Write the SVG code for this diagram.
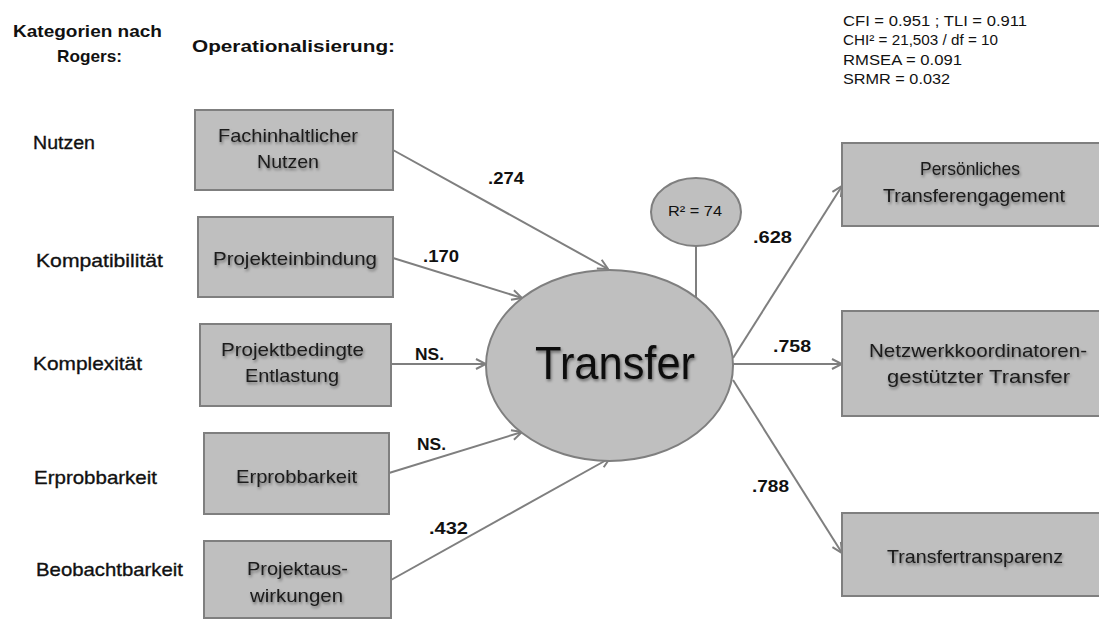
<svg xmlns="http://www.w3.org/2000/svg" width="1099" height="619" viewBox="0 0 1099 619">
  <defs>
    <style>
      text { font-family: "Liberation Sans", "DejaVu Sans", sans-serif; fill: #111; }
      .hdr { font-size: 17px; font-weight: bold; }
      .cat { font-size: 19px; stroke: #111; stroke-width: 0.35; }
      .box rect { fill: #bfbfbf; stroke: #7f7f7f; stroke-width: 2; }
      .box text { font-size: 19px; fill: #1a1a1a; filter: url(#shadow); }
      .coef { font-size: 17px; font-weight: bold; }
      .stat { font-size: 15px; }
      .conn line { stroke: #7f7f7f; stroke-width: 2; fill: none; }
      .arrow { marker-end: url(#head); }
    </style>
    <filter id="shadow" x="-10%" y="-30%" width="120%" height="170%">
      <feDropShadow dx="1" dy="2" stdDeviation="1.5" flood-color="#000" flood-opacity="0.45"/>
    </filter>
    <marker id="head" viewBox="0 0 12 12" refX="11" refY="6" markerWidth="12" markerHeight="12" markerUnits="userSpaceOnUse" orient="auto">
      <path d="M1,1 L11,6 L1,11" fill="none" stroke="#7f7f7f" stroke-width="2"/>
    </marker>
  </defs>

  <rect width="1099" height="619" fill="#fff"/>

  <!-- column headers -->
  <g id="headers">
    <text class="hdr" x="13" y="37" textLength="149" lengthAdjust="spacingAndGlyphs">Kategorien nach</text>
    <text class="hdr" x="57" y="62" textLength="65" lengthAdjust="spacingAndGlyphs">Rogers:</text>
    <text class="hdr" x="192" y="52" textLength="203" lengthAdjust="spacingAndGlyphs">Operationalisierung:</text>
  </g>

  <!-- fit indices -->
  <g id="fit">
    <text class="stat" x="843" y="26" textLength="184" lengthAdjust="spacingAndGlyphs">CFI = 0.951 ; TLI = 0.911</text>
    <text class="stat" x="843" y="45" textLength="155" lengthAdjust="spacingAndGlyphs">CHI² = 21,503 / df = 10</text>
    <text class="stat" x="843" y="65" textLength="119" lengthAdjust="spacingAndGlyphs">RMSEA = 0.091</text>
    <text class="stat" x="843" y="84" textLength="107" lengthAdjust="spacingAndGlyphs">SRMR = 0.032</text>
  </g>

  <!-- Rogers categories -->
  <g id="categories">
    <text class="cat" x="33" y="149" textLength="62" lengthAdjust="spacingAndGlyphs">Nutzen</text>
    <text class="cat" x="36" y="267" textLength="127" lengthAdjust="spacingAndGlyphs">Kompatibilität</text>
    <text class="cat" x="33" y="370" textLength="109" lengthAdjust="spacingAndGlyphs">Komplexität</text>
    <text class="cat" x="34" y="484" textLength="123" lengthAdjust="spacingAndGlyphs">Erprobbarkeit</text>
    <text class="cat" x="36" y="576" textLength="147" lengthAdjust="spacingAndGlyphs">Beobachtbarkeit</text>
  </g>

  <!-- connectors -->
  <g id="connectors" class="conn">
    <line class="arrow" x1="393" y1="150" x2="608" y2="269"/>
    <line class="arrow" x1="393" y1="258" x2="522" y2="298"/>
    <line class="arrow" x1="391" y1="364" x2="486" y2="364"/>
    <line class="arrow" x1="389" y1="473" x2="522" y2="432"/>
    <line class="arrow" x1="391" y1="580" x2="610" y2="458"/>
    <line x1="696" y1="246" x2="696" y2="297"/>
    <line class="arrow" x1="733" y1="358" x2="842" y2="186"/>
    <line class="arrow" x1="733" y1="364" x2="842" y2="364"/>
    <line class="arrow" x1="733" y1="380" x2="842" y2="553"/>
  </g>

  <!-- path coefficients -->
  <g id="coefficients">
    <text class="coef" x="488" y="184" textLength="36" lengthAdjust="spacingAndGlyphs">.274</text>
    <text class="coef" x="423" y="262" textLength="36" lengthAdjust="spacingAndGlyphs">.170</text>
    <text class="coef" x="415" y="360" textLength="29" lengthAdjust="spacingAndGlyphs">NS.</text>
    <text class="coef" x="417" y="450" textLength="29" lengthAdjust="spacingAndGlyphs">NS.</text>
    <text class="coef" x="429" y="534" textLength="39" lengthAdjust="spacingAndGlyphs">.432</text>
    <text class="coef" x="753" y="243" textLength="39" lengthAdjust="spacingAndGlyphs">.628</text>
    <text class="coef" x="773" y="352" textLength="38" lengthAdjust="spacingAndGlyphs">.758</text>
    <text class="coef" x="752" y="492" textLength="37" lengthAdjust="spacingAndGlyphs">.788</text>
  </g>

  <!-- predictor boxes -->
  <g id="fachinhaltlicher-nutzen" class="box">
    <rect x="195" y="110" width="198" height="80"/>
    <text x="218" y="142" textLength="140" lengthAdjust="spacingAndGlyphs">Fachinhaltlicher</text>
    <text x="257" y="168" textLength="62" lengthAdjust="spacingAndGlyphs">Nutzen</text>
  </g>
  <g id="projekteinbindung" class="box">
    <rect x="198" y="217" width="195" height="80"/>
    <text x="213" y="265" textLength="164" lengthAdjust="spacingAndGlyphs">Projekteinbindung</text>
  </g>
  <g id="projektbedingte-entlastung" class="box">
    <rect x="200" y="324" width="191" height="82"/>
    <text x="221" y="356" textLength="143" lengthAdjust="spacingAndGlyphs">Projektbedingte</text>
    <text x="245" y="382" textLength="94" lengthAdjust="spacingAndGlyphs">Entlastung</text>
  </g>
  <g id="erprobbarkeit" class="box">
    <rect x="204" y="433" width="185" height="81"/>
    <text x="236" y="483" textLength="121" lengthAdjust="spacingAndGlyphs">Erprobbarkeit</text>
  </g>
  <g id="projektauswirkungen" class="box">
    <rect x="204" y="541" width="187" height="77"/>
    <text x="247" y="575" textLength="101" lengthAdjust="spacingAndGlyphs">Projektaus-</text>
    <text x="250" y="602" textLength="93" lengthAdjust="spacingAndGlyphs">wirkungen</text>
  </g>

  <!-- latent construct -->
  <g id="transfer">
    <ellipse cx="609.5" cy="365.5" rx="123.5" ry="95.5" fill="#bfbfbf" stroke="#7f7f7f" stroke-width="2"/>
    <text x="535" y="379" font-size="47" textLength="160" lengthAdjust="spacingAndGlyphs" filter="url(#shadow)">Transfer</text>
  </g>
  <g id="r-squared">
    <ellipse cx="696" cy="212" rx="45" ry="34" fill="#bfbfbf" stroke="#7f7f7f" stroke-width="2"/>
    <text x="668" y="216" font-size="15" textLength="54" lengthAdjust="spacingAndGlyphs">R² = 74</text>
  </g>

  <!-- outcome boxes -->
  <g id="persoenliches-transferengagement" class="box">
    <rect x="842" y="143" width="258" height="83"/>
    <text x="920" y="175" textLength="100" lengthAdjust="spacingAndGlyphs">Persönliches</text>
    <text x="883" y="202" textLength="182" lengthAdjust="spacingAndGlyphs">Transferengagement</text>
  </g>
  <g id="netzwerkkoordinatoren-transfer" class="box">
    <rect x="842" y="311" width="258" height="105"/>
    <text x="869" y="357" textLength="218" lengthAdjust="spacingAndGlyphs">Netzwerkkoordinatoren-</text>
    <text x="887" y="383" textLength="183" lengthAdjust="spacingAndGlyphs">gestützter Transfer</text>
  </g>
  <g id="transfertransparenz" class="box">
    <rect x="842" y="513" width="258" height="83"/>
    <text x="887" y="563" textLength="176" lengthAdjust="spacingAndGlyphs">Transfertransparenz</text>
  </g>
</svg>
